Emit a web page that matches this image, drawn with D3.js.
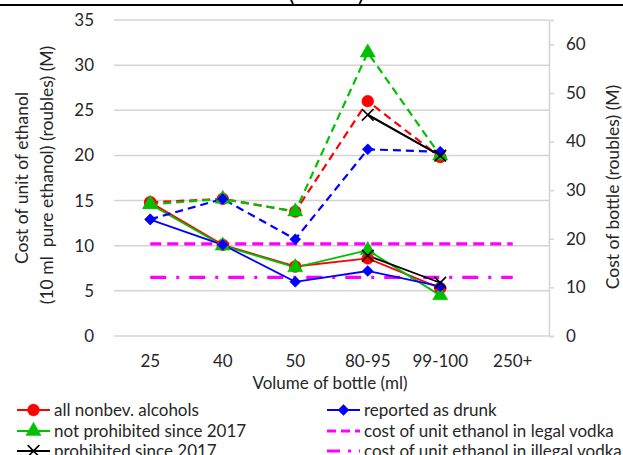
<!DOCTYPE html>
<html><head><meta charset="utf-8">
<script src="https://cdn.jsdelivr.net/npm/d3@7"></script>
<style>html,body{margin:0;padding:0;background:#fff;} svg{display:block;font-family:Lato,"Open Sans",sans-serif;}</style>
</head><body>
<script>
const categories = ["25","40","50","80-95","99-100","250+"];
// Cost of unit of ethanol (left axis)
const allUnit      = [14.8, 10.1, 7.7, 8.6, 5.3, null];
const notProhUnit  = [14.6, 10.0, 7.6, 9.5, 4.5, null];
const prohUnit     = [null, null, null, 8.9, 5.9, null];
const drunkUnit    = [12.9, 10.1, 6.0, 7.2, 5.5, null];
// Cost of bottle (right axis)
const allBottle     = [27.5, 28.2, 25.6, 48.3, 36.8, null];
const notProhBottle = [27.1, 28.2, 25.6, 58.3, 37.1, null];
const prohBottle    = [null, null, null, 45.5, 37.1, null];
const drunkBottle   = [24.0, 28.2, 19.9, 38.4, 37.9, null];
// Reference lines (left axis)
const legalVodka   = [10.2, 10.2, 10.2, 10.2, 10.2, 10.2];
const illegalVodka = [6.5, 6.5, 6.5, 6.5, 6.5, 6.5];
const leftTicks  = [0,5,10,15,20,25,30,35];
const rightTicks = [0,10,20,30,40,50,60];

const W = 623, H = 455;
const svg = d3.select("body").append("svg").attr("width", W).attr("height", H);
const txt = "#262626";
const FS = 17;

// top border & cut-off title fragments
svg.append("line").attr("x1",0).attr("x2",W).attr("y1",5).attr("y2",5).attr("stroke","#000").attr("stroke-width",2);
svg.append("text").attr("x",288).attr("y",1).attr("font-size",24).attr("fill","#000").text("(");
svg.append("text").attr("x",358).attr("y",1).attr("font-size",24).attr("fill","#000").text(")");

const x = d3.scaleBand().domain(categories).range([114, 549]);
const cx = c => x(c) + x.bandwidth()/2;
const yL = d3.scaleLinear().domain([0,35]).range([336,20]);
const yR = d3.scaleLinear().domain([0,65]).range([336,20]);

// gridlines
svg.append("g").selectAll("line").data(leftTicks).join("line")
  .attr("x1",114).attr("x2",549).attr("y1",d=>yL(d)).attr("y2",d=>yL(d))
  .attr("stroke","#d4d4d4").attr("stroke-width",1.5);

// left axis labels
const gl = svg.append("g").attr("transform","translate(114,0)")
  .call(d3.axisLeft(yL).tickValues(leftTicks).tickSize(0).tickPadding(20));
gl.select(".domain").remove();
gl.selectAll("text").attr("font-size",FS).attr("fill",txt).style("font-family","Lato");

// right axis
const gr = svg.append("g").attr("transform","translate(549,0)")
  .call(d3.axisRight(yR).tickValues(rightTicks).tickSize(5).tickPadding(12));
gr.select(".domain").attr("stroke","#d4d4d4").attr("stroke-width",1.5);
gr.selectAll(".tick line").attr("stroke","#d4d4d4").attr("stroke-width",1.5);
gr.selectAll("text").attr("font-size",FS).attr("fill",txt).style("font-family","Lato");

// x axis labels
const gx = svg.append("g").attr("transform","translate(0,336)")
  .call(d3.axisBottom(x).tickSize(0).tickPadding(19));
gx.select(".domain").remove();
gx.selectAll("text").attr("font-size",FS).attr("fill",txt).style("font-family","Lato");

// axis titles
svg.append("text").attr("x",330).attr("y",389).attr("text-anchor","middle").attr("font-size",FS).attr("fill",txt).text("Volume of bottle (ml)");
svg.append("text").attr("transform","translate(28,178) rotate(-90)").attr("text-anchor","middle").attr("font-size",FS+0.5).attr("fill",txt).text("Cost of unit of ethanol");
svg.append("text").attr("transform","translate(53,175) rotate(-90)").attr("text-anchor","middle").attr("font-size",FS+0.5).attr("fill",txt).attr("xml:space","preserve").text("(10 ml  pure ethanol) (roubles) (M)");
svg.append("text").attr("transform","translate(619,187) rotate(-90)").attr("text-anchor","middle").attr("font-size",FS+0.5).attr("fill",txt).text("Cost of bottle (roubles) (M)");

const plot = svg.append("g");
function drawLine(vals, y, color, dash, width){
  const line = d3.line().defined(d=>d.v!=null).x(d=>cx(d.c)).y(d=>y(d.v));
  plot.append("path").datum(vals.map((v,i)=>({c:categories[i],v})))
    .attr("d",line).attr("fill","none").attr("stroke",color).attr("stroke-width",width||2.2)
    .attr("stroke-dasharray",dash||null);
}
const sym = {
  circle: d3.symbol().type(d3.symbolCircle).size(110),
  triangle: d3.symbol().type(d3.symbolTriangle).size(100),
  diamond: d3.symbol().type(d3.symbolSquare).size(60),
  x: d3.symbol().type(d3.symbolX).size(90)
};
const rot = k => k==="diamond" ? " rotate(45)" : "";
function drawMarks(vals, y, color, kind){
  const pts = vals.map((v,i)=>({c:categories[i],v})).filter(d=>d.v!=null);
  const g = plot.append("g");
  g.selectAll("path").data(pts).join("path")
    .attr("transform",d=>`translate(${cx(d.c)},${y(d.v)})${rot(kind)}`)
    .attr("d",sym[kind]())
    .attr("fill",kind==="x"?"none":color)
    .attr("stroke",color).attr("stroke-width",kind==="x"?1.6:0.5);
}

// magenta reference lines
drawLine(legalVodka, yL, "#ff00ff", "11,6", 3.2);
drawLine(illegalVodka, yL, "#ff00ff", "16,10,3,10", 3.2);

const series = [
  {u:allUnit, b:allBottle, color:"#ff0000", kind:"circle", bdash:"8,5"},
  {u:notProhUnit, b:notProhBottle, color:"#00c000", kind:"triangle", bdash:"8,5"},
  {u:drunkUnit, b:drunkBottle, color:"#0000ff", kind:"diamond", bdash:"8,5"},
  {u:prohUnit, b:prohBottle, color:"#000000", kind:"x", bdash:null}
];
series.forEach(s=>{
  drawLine(s.b, yR, s.color, s.bdash, 2.2);
  drawLine(s.u, yL, s.color, null, 1.8);
});
series.forEach(s=>{
  drawMarks(s.b, yR, s.color, s.kind);
  drawMarks(s.u, yL, s.color, s.kind);
});

// legend
const legend = [
  {label:"all nonbev. alcohols", color:"#ff0000", kind:"circle", dash:null, col:0, row:0},
  {label:"not prohibited since 2017", color:"#00c000", kind:"triangle", dash:null, col:0, row:1},
  {label:"prohibited since 2017", color:"#000000", kind:"x", dash:null, col:0, row:2},
  {label:"reported as drunk", color:"#0000ff", kind:"diamond", dash:null, col:1, row:0},
  {label:"cost of unit ethanol in legal vodka", color:"#ff00ff", kind:null, dash:"9,5", col:1, row:1},
  {label:"cost of unit ethanol in illegal vodka", color:"#ff00ff", kind:null, dash:"13,8,3,8", col:1, row:2}
];
const colX = [17, 327], rowY = [410, 431, 451];
const lg = svg.append("g");
legend.forEach(l=>{
  const x0 = colX[l.col], y0 = rowY[l.row];
  lg.append("line").attr("x1",x0).attr("x2",x0+33).attr("y1",y0).attr("y2",y0)
    .attr("stroke",l.color).attr("stroke-width",l.kind?2:3).attr("stroke-dasharray",l.dash);
  if(l.kind){
    lg.append("path").attr("transform",`translate(${x0+16.5},${y0})${rot(l.kind)}`).attr("d",sym[l.kind]())
      .attr("fill",l.kind==="x"?"none":l.color).attr("stroke",l.color).attr("stroke-width",l.kind==="x"?1.6:0.5);
  }
  lg.append("text").attr("x",x0+37).attr("y",y0+5.5).attr("font-size",FS).attr("fill",txt).text(l.label);
});
</script>
</body></html>
